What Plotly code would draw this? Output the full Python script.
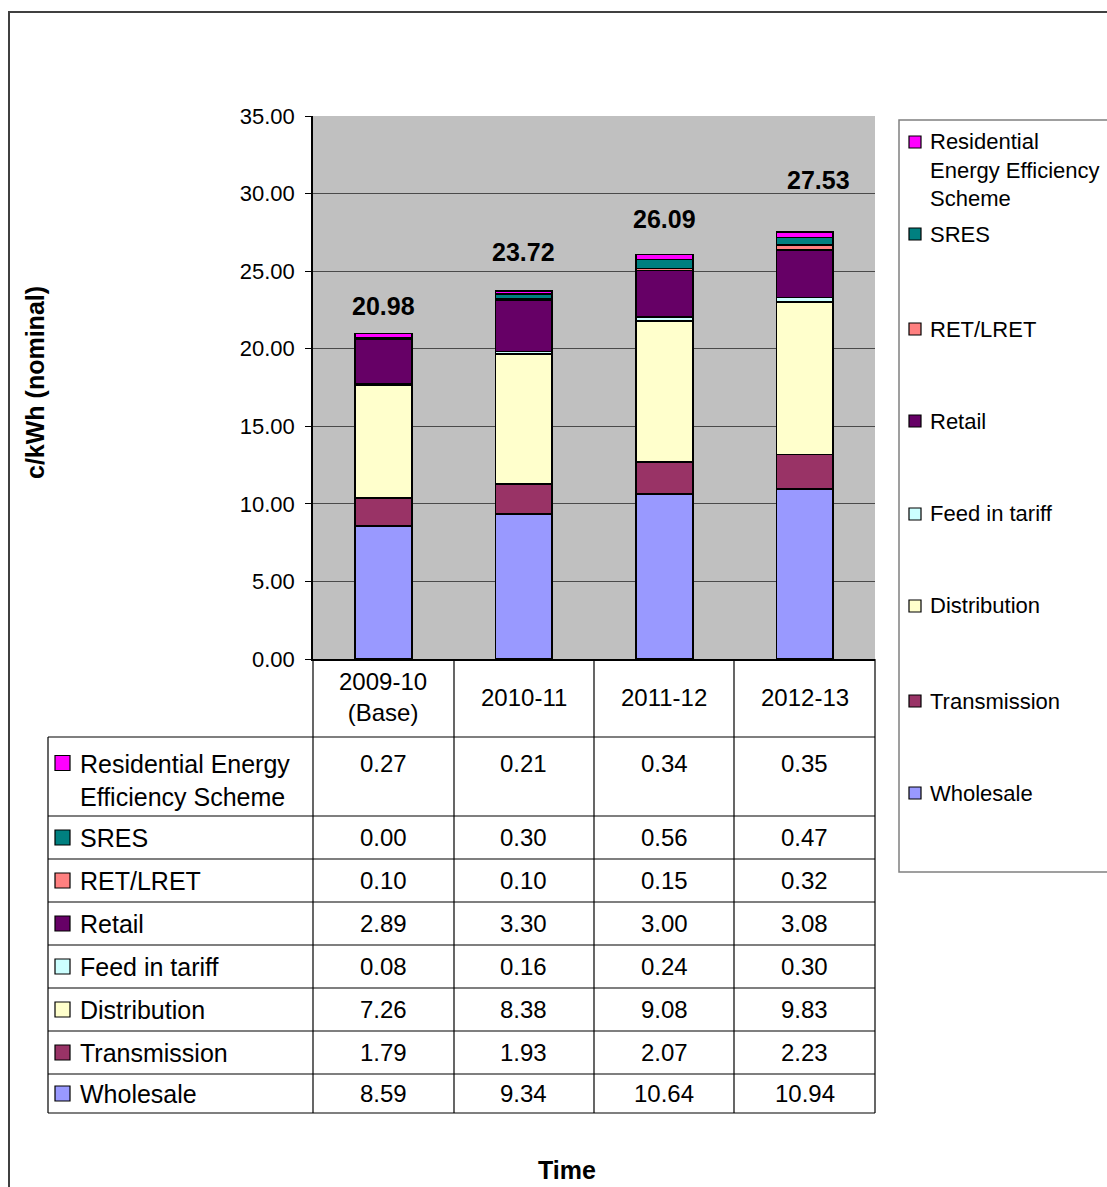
import plotly.graph_objects as go

# ---- data -------------------------------------------------------------
years = ["2009-10", "2010-11", "2011-12", "2012-13"]
year_labels = ["2009-10<br>(Base)", "2010-11", "2011-12", "2012-13"]

wholesale = [8.59, 9.34, 10.64, 10.94]
transmission = [1.79, 1.93, 2.07, 2.23]
distribution = [7.26, 8.38, 9.08, 9.83]
feed_in_tariff = [0.08, 0.16, 0.24, 0.30]
retail = [2.89, 3.30, 3.00, 3.08]
ret_lret = [0.10, 0.10, 0.15, 0.32]
sres = [0.00, 0.30, 0.56, 0.47]
rees = [0.27, 0.21, 0.34, 0.35]
totals = [20.98, 23.72, 26.09, 27.53]

y_ticks = [0, 5, 10, 15, 20, 25, 30, 35]

# stacking order, bottom to top
series = [
    ("Wholesale", wholesale, "#9999FF"),
    ("Transmission", transmission, "#993366"),
    ("Distribution", distribution, "#FFFFCC"),
    ("Feed in tariff", feed_in_tariff, "#CCFFFF"),
    ("Retail", retail, "#660066"),
    ("RET/LRET", ret_lret, "#FF8080"),
    ("SRES", sres, "#008080"),
    ("Residential Energy Efficiency Scheme", rees, "#FF00FF"),
]

# ---- page geometry (pixels) -------------------------------------------
W, H = 1107, 1187
FONT = "Liberation Sans, Arial, sans-serif"


def px(x):
    return x / W


def py(y):
    return 1 - y / H


plot_l, plot_r, plot_t, plot_b = 313, 875, 116, 659
col_edges = [313, 454, 594, 734, 875]
table_left = 48
row_edges = [737, 816, 859, 902, 945, 988, 1031, 1074, 1113]

fig = go.Figure()
for name, vals, color in series:
    fig.add_trace(go.Bar(
        x=years, y=vals, name=name,
        marker=dict(color=color, line=dict(color="black", width=1.6)),
        showlegend=False,
    ))

shapes = []
annotations = []

# outer chart frame
shapes.append(dict(type="rect", xref="paper", yref="paper",
                   x0=px(9), x1=px(1130), y0=py(1230), y1=py(12),
                   line=dict(color="#404040", width=2)))

# data table grid
for ye in row_edges:
    shapes.append(dict(type="line", xref="paper", yref="paper",
                       x0=px(table_left), x1=px(col_edges[-1]), y0=py(ye), y1=py(ye),
                       line=dict(color="black", width=1.2)))
shapes.append(dict(type="line", xref="paper", yref="paper",
                   x0=px(table_left), x1=px(table_left), y0=py(row_edges[0]), y1=py(row_edges[-1]),
                   line=dict(color="black", width=1.2)))
for xe in col_edges:
    shapes.append(dict(type="line", xref="paper", yref="paper",
                       x0=px(xe), x1=px(xe), y0=py(plot_b), y1=py(row_edges[-1]),
                       line=dict(color="black", width=1.2)))

# category headers
for yr, lab in zip(years, year_labels):
    annotations.append(dict(x=yr, xref="x", y=py(697), yref="paper", text=lab,
                            showarrow=False, xanchor="center", yanchor="middle",
                            font=dict(family=FONT, size=24, color="black")))

# table rows, top to bottom
table_rows = list(reversed(series))
row_key_size = 15
for i, (name, vals, color) in enumerate(table_rows):
    top, bot = row_edges[i], row_edges[i + 1]
    if i == 0:
        text_y = 780
        first_line_y = 763
        label = "Residential Energy<br>Efficiency Scheme"
    else:
        text_y = (top + bot) / 2
        first_line_y = text_y
        label = name
    shapes.append(dict(type="rect", xref="paper", yref="paper",
                       x0=px(55), x1=px(55 + row_key_size),
                       y0=py(first_line_y + row_key_size / 2), y1=py(first_line_y - row_key_size / 2),
                       fillcolor=color, line=dict(color="black", width=1.2)))
    annotations.append(dict(x=px(78), xref="paper", y=py(text_y), yref="paper",
                            text=label, showarrow=False, xanchor="left", yanchor="middle",
                            align="left",
                            font=dict(family=FONT, size=25, color="black")))
    for yr, v in zip(years, vals):
        annotations.append(dict(x=yr, xref="x", y=py(first_line_y), yref="paper",
                                text=f"{v:.2f}", showarrow=False,
                                xanchor="center", yanchor="middle",
                                font=dict(family=FONT, size=24, color="black")))

# totals above each stack
label_lift = [28, 39, 35, 52]
label_nudge = [0, 0, 0, 14]
for j, yr in enumerate(years):
    stack_top = sum(s[1][j] for s in series)
    annotations.append(dict(x=yr, xref="x", y=stack_top, yref="y",
                            text=f"{totals[j]:.2f}", showarrow=False,
                            xanchor="center", yanchor="middle",
                            yshift=label_lift[j], xshift=label_nudge[j],
                            font=dict(family=FONT, size=25, color="black", weight="bold")))

# legend box
shapes.append(dict(type="rect", xref="paper", yref="paper",
                   x0=px(899), x1=px(1130), y0=py(872), y1=py(120),
                   line=dict(color="#808080", width=1.5), fillcolor="white", layer="below"))
legend_items = [
    ("Residential<br>Energy Efficiency<br>Scheme", "#FF00FF", 142, 170),
    ("SRES", "#008080", 234, 234),
    ("RET/LRET", "#FF8080", 329, 329),
    ("Retail", "#660066", 421, 421),
    ("Feed in tariff", "#CCFFFF", 514, 514),
    ("Distribution", "#FFFFCC", 606, 606),
    ("Transmission", "#993366", 701, 701),
    ("Wholesale", "#9999FF", 793, 793),
]
k = 12
for text, color, key_y, text_y in legend_items:
    shapes.append(dict(type="rect", xref="paper", yref="paper",
                       x0=px(909), x1=px(909 + k),
                       y0=py(key_y + k / 2), y1=py(key_y - k / 2),
                       fillcolor=color, line=dict(color="black", width=1.2)))
    annotations.append(dict(x=px(928), xref="paper", y=py(text_y), yref="paper",
                            text=text, showarrow=False, xanchor="left", yanchor="middle",
                            align="left",
                            font=dict(family=FONT, size=22, color="black")))

# axis titles
annotations.append(dict(x=px(567), xref="paper", y=py(1170), yref="paper", text="Time",
                        showarrow=False, xanchor="center", yanchor="middle",
                        font=dict(family=FONT, size=25, color="black", weight="bold")))
annotations.append(dict(x=px(35), xref="paper", y=py(383), yref="paper",
                        text="c/kWh (nominal)", textangle=-90,
                        showarrow=False, xanchor="center", yanchor="middle",
                        font=dict(family=FONT, size=25, color="black", weight="bold")))

fig.update_layout(
    width=W, height=H,
    margin=dict(l=0, r=0, t=0, b=0, autoexpand=False),
    paper_bgcolor="white",
    plot_bgcolor="#C0C0C0",
    barmode="stack",
    bargap=0.595,
    showlegend=False,
    shapes=shapes,
    annotations=annotations,
    xaxis=dict(type="category", categoryorder="array", categoryarray=years,
               domain=[px(plot_l), px(plot_r)], showticklabels=False, ticks="",
               showgrid=False, showline=True, linecolor="black", linewidth=1.5,
               zeroline=False, fixedrange=True, automargin=False),
    yaxis=dict(domain=[py(plot_b), py(plot_t)], range=[0, 35], tickvals=y_ticks,
               tickformat=".2f", ticks="outside", ticklen=6, tickcolor="black",
               tickwidth=1.2, ticklabelstandoff=6,
               showline=True, linecolor="black", linewidth=1.5,
               showgrid=True, gridcolor="#4a4a4a", gridwidth=1.3, zeroline=False,
               tickfont=dict(family=FONT, size=22, color="black"), fixedrange=True,
               automargin=False),
)

fig.write_html("out.html")
